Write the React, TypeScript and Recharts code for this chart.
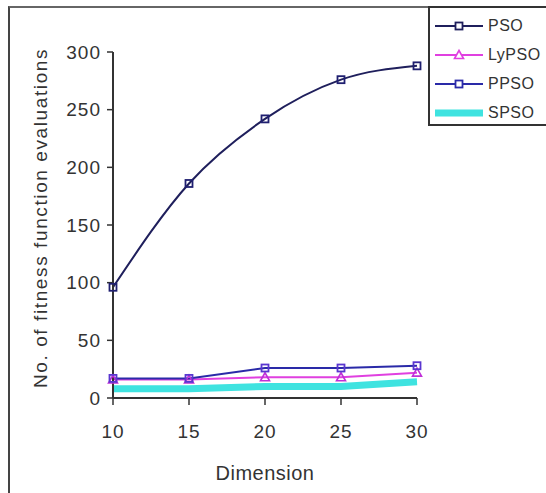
import React from 'react';
import { LineChart, Line, XAxis, YAxis, Legend } from 'recharts';

const dimensions = [10, 15, 20, 25, 30];
const psoValues = [96, 186, 242, 276, 288];
const lypsoValues = [16, 16, 18, 18, 22];
const ppsoValues = [17, 17, 26, 26, 28];
const spsoValues = [8, 8, 10, 10, 14];
const yTicks = [0, 50, 100, 150, 200, 250, 300];
const xTicks = [10, 15, 20, 25, 30];

const data = dimensions.map((d, i) => ({
  dim: d,
  PSO: psoValues[i],
  LyPSO: lypsoValues[i],
  PPSO: ppsoValues[i],
  SPSO: spsoValues[i],
}));

const FONT = '"Liberation Sans", Arial, sans-serif';

const legendItems = [
  { name: 'PSO', color: '#1f1f5c', marker: 'square', width: 2 },
  { name: 'LyPSO', color: '#e040e0', marker: 'triangle', width: 2 },
  { name: 'PPSO', color: '#2a2aa8', marker: 'square', width: 2 },
  { name: 'SPSO', color: '#3fe3e0', marker: 'none', width: 7 },
];

const SquareDot = (color: string) => (props: any) => {
  const { cx, cy } = props;
  if (cx == null || cy == null) return null;
  return <rect x={cx - 3.5} y={cy - 3.5} width={7} height={7} fill="none" stroke={color} strokeWidth={1.8} />;
};

const TriDot = (color: string) => (props: any) => {
  const { cx, cy } = props;
  if (cx == null || cy == null) return null;
  return (
    <polygon
      points={`${cx},${cy - 4.5} ${cx + 4.5},${cy + 3.5} ${cx - 4.5},${cy + 3.5}`}
      fill="none"
      stroke={color}
      strokeWidth={1.6}
    />
  );
};

const LegendContent = () => (
  <div
    style={{
      boxSizing: 'border-box',
      width: 130,
      height: 120,
      borderLeft: '2px solid #333',
      borderTop: '2px solid #333',
      borderBottom: '2px solid #333',
      background: '#fff',
      paddingTop: 3,
      fontFamily: FONT,
      fontSize: 16,
      color: '#333',
      textAlign: 'left',
    }}
  >
    {legendItems.map((it) => (
      <div key={it.name} style={{ display: 'flex', alignItems: 'center', height: 29 }}>
        <svg width={50} height={14} style={{ marginLeft: 5, marginRight: 3 }}>
          <line x1={0} y1={7} x2={48} y2={7} stroke={it.color} strokeWidth={it.width} />
          {it.marker === 'square' && (
            <rect x={20.5} y={3.5} width={7} height={7} fill="#fff" stroke={it.color} strokeWidth={1.8} />
          )}
          {it.marker === 'triangle' && (
            <polygon points="24,2.5 28.5,10.5 19.5,10.5" fill="#fff" stroke={it.color} strokeWidth={1.6} />
          )}
        </svg>
        <span style={{ letterSpacing: 0.5 }}>{it.name}</span>
      </div>
    ))}
  </div>
);

const YLabel = (props: any) => {
  const vb = props.viewBox || {};
  const cx = 40;
  const cy = (vb.y || 0) + (vb.height || 0) / 2 - 7;
  return (
    <text
      x={cx}
      y={cy}
      transform={`rotate(-90, ${cx}, ${cy})`}
      textAnchor="middle"
      dominantBaseline="central"
      fontFamily={FONT}
      fontSize={19}
      letterSpacing={1.6}
      fill="#333"
    >
      No. of fitness function evaluations
    </text>
  );
};

const XLabel = (props: any) => {
  const vb = props.viewBox || {};
  const cx = (vb.x || 0) + (vb.width || 0) / 2;
  return (
    <text x={cx} y={480} textAnchor="middle" fontFamily={FONT} fontSize={20} letterSpacing={0.5} fill="#333">
      Dimension
    </text>
  );
};

export default function App() {
  return (
    <div style={{ position: 'absolute', left: 0, top: 0, width: 546, height: 493, overflow: 'hidden', background: '#fff' }}>
      <div
        style={{
          position: 'absolute',
          left: 8,
          top: 6,
          width: 560,
          height: 485,
          borderLeft: '2px solid #444',
          borderTop: '2px solid #666',
          borderBottom: '1px solid #ccc',
        }}
      />
      <div style={{ position: 'absolute', left: 0, top: 0 }}>
        <LineChart width={546} height={493} data={data} margin={{ top: 52, right: 129, bottom: 35, left: 0 }}>
          <XAxis
            dataKey="dim"
            type="number"
            domain={[10, 30]}
            ticks={xTicks}
            height={60}
            axisLine={{ stroke: '#333', strokeWidth: 2 }}
            tickLine={{ stroke: '#333', strokeWidth: 1.5 }}
            tickSize={7}
            tickMargin={20}
            tick={{ fill: '#333', fontFamily: FONT, fontSize: 19, letterSpacing: 1 }}
            label={<XLabel />}
          />
          <YAxis
            type="number"
            domain={[0, 300]}
            ticks={yTicks}
            width={113}
            axisLine={{ stroke: '#333', strokeWidth: 2 }}
            tickLine={{ stroke: '#333', strokeWidth: 1.5 }}
            tickSize={6}
            tickMargin={6}
            tick={{ fill: '#333', fontFamily: FONT, fontSize: 19, letterSpacing: 1 }}
            label={<YLabel />}
          />
          <Legend
            verticalAlign="middle"
            align="center"
            layout="horizontal"
            content={<LegendContent />}
            wrapperStyle={{ position: 'absolute', left: 428, top: 6, right: 'auto', bottom: 'auto', width: 130, height: 120 }}
          />
          <Line
            type="linear"
            dataKey="SPSO"
            stroke="#3fe3e0"
            strokeWidth={7}
            dot={false}
            isAnimationActive={false}
          />
          <Line
            type="linear"
            dataKey="LyPSO"
            stroke="#e040e0"
            strokeWidth={2}
            dot={TriDot('#c030d8')}
            isAnimationActive={false}
          />
          <Line
            type="linear"
            dataKey="PPSO"
            stroke="#2a2aa8"
            strokeWidth={2}
            dot={SquareDot('#5a36d0')}
            isAnimationActive={false}
          />
          <Line
            type="monotone"
            dataKey="PSO"
            stroke="#1f1f5c"
            strokeWidth={2}
            dot={SquareDot('#1f1f70')}
            isAnimationActive={false}
          />
        </LineChart>
      </div>
    </div>
  );
}
